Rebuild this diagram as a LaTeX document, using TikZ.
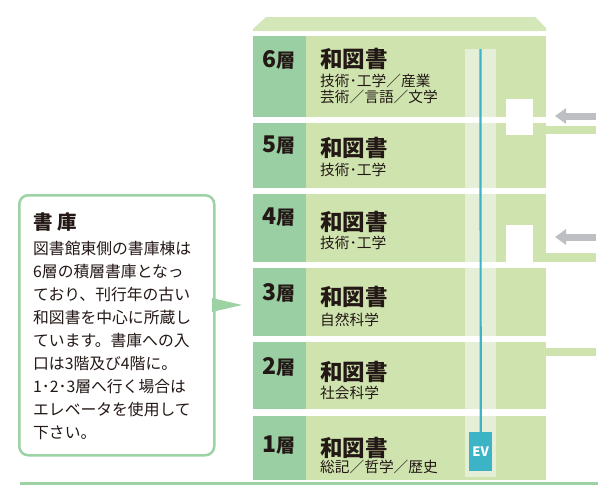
\documentclass[tikz,border=0pt]{standalone}
\usepackage{fontspec}
\setmainfont{Noto Sans CJK JP}
\usetikzlibrary{arrows.meta}
\definecolor{lightg}{HTML}{CFE3AF}
\definecolor{darkg}{HTML}{99CFA2}
\definecolor{stripg}{HTML}{E5EED7}
\definecolor{roofg}{HTML}{D4E7B8}
\definecolor{evteal}{HTML}{3CB4C6}
\definecolor{lineg}{HTML}{9DD2A5}
\definecolor{arrg}{HTML}{BDBFC3}
\definecolor{ink}{HTML}{231815}
\begin{document}
\begin{tikzpicture}[x=1pt,y=-1pt,
  txt/.style={inner sep=0pt, anchor=base west, text=ink},
  lvl/.style={txt, font=\fontsize{23}{23}\selectfont\bfseries},
  ttl/.style={txt, font=\fontsize{22.5}{22.5}\selectfont\bfseries},
  floorsub/.style={txt, font=\fontsize{14.7}{14.7}\selectfont},
  bodytxt/.style={txt, font=\fontsize{15.8}{15.8}\selectfont},
  inarrow/.style={draw=arrg, line width=7pt, -{Triangle[length=11pt,width=15pt]}},
  wall/.style={fill=lightg, draw=none},
  calloutbox/.style={draw=lineg, line width=2.5pt, fill=white, rounded corners=9pt, inner sep=0pt},
]
\useasboundingbox (0,0) rectangle (616,498);
% roof
\fill[roofg] (253,31) -- (253,29) -- (266,17) -- (535,17) -- (546,28) -- (546,31) -- cycle;
% floors
\foreach \t/\b in {36/117,123/188,194/262,268/336,342/409,416/480}{
  \fill[lightg] (306,\t) rectangle (546,\b);
  \fill[darkg] (253,\t) rectangle (306,\b);
}
% elevator strip
\fill[stripg] (465,49) rectangle (496,117);
\foreach \t/\b in {123/188,194/262,268/336,342/409,416/477}
  \fill[stripg] (465,\t) rectangle (496,\b);
% entrances
\fill[white] (506,99) rectangle (533,135);
\fill[white] (506,225) rectangle (533,262);
\fill[wall] (545,126) rectangle (596,134);
\fill[wall] (545,253) rectangle (596,262);
\fill[wall] (545,348) rectangle (596,356);
\coordinate (a1s) at (596,116);
\coordinate (a1e) at (555,116);
\coordinate (a2s) at (596,237);
\coordinate (a2e) at (555,237);
\draw[inarrow] (a1s) -- (a1e);
\draw[inarrow] (a2s) -- (a2e);
% elevator
\node[fill=evteal, minimum width=23pt, minimum height=39pt, inner sep=0pt, anchor=north west,
      text=white, font=\fontsize{13}{13}\selectfont\bfseries] (ev) at (469,432) {EV};
\coordinate (evtop) at (480.5,49);
\draw[evteal, line width=2.2pt] (evtop) -- (ev.north);
% ground
\coordinate (gl) at (20,483);
\coordinate (gr) at (598,483);
\draw[lineg, line width=3pt] (gl) -- (gr);
% floor texts
\foreach \n/\ly/\ty in {6/67/67,5/152/156,4/224/230,3/300/305,2/374/380,1/452/456}{
  \node[lvl] (lv\n) at (262,\ly) {\n\fontsize{19}{19}\selectfont 層};
  \node[ttl] (tt\n) at (320,\ty) {和図書};
}
\node[floorsub] (sb6a) at (320,86.5) {技術･工学／産業};
\node[floorsub] (sb6b) at (320,102.5) {芸術／言語／文学};
\node[floorsub] (sb5) at (320,175.5) {技術･工学};
\node[floorsub] (sb4) at (320,248.5) {技術･工学};
\node[floorsub] (sb3) at (320,325.5) {自然科学};
\node[floorsub] (sb2) at (320,398.5) {社会科学};
\node[floorsub] (sb1) at (320,472.5) {総記／哲学／歴史};
% callout
\node[calloutbox, minimum width=195pt, minimum height=260pt, anchor=north west] (callout) at (18,194) {};
\fill[lineg] (212,298) -- (242,305) -- (212,312) -- cycle;
\node[txt, font=\fontsize{19.5}{19.5}\selectfont\bfseries] (ctitle) at (33,229) {書 庫};
\foreach \i/\s in {0/図書館東側の書庫棟は,1/6層の積層書庫となっ,2/ており、刊行年の古い,3/和図書を中心に所蔵し,4/ています。書庫への入,5/口は3階及び4階に。,6/1･2･3層へ行く場合は,7/エレベータを使用して,8/下さい。}{
  \node[bodytxt] (cl\i) at (33,254+23*\i) {\s};
}
\end{tikzpicture}
\end{document}
